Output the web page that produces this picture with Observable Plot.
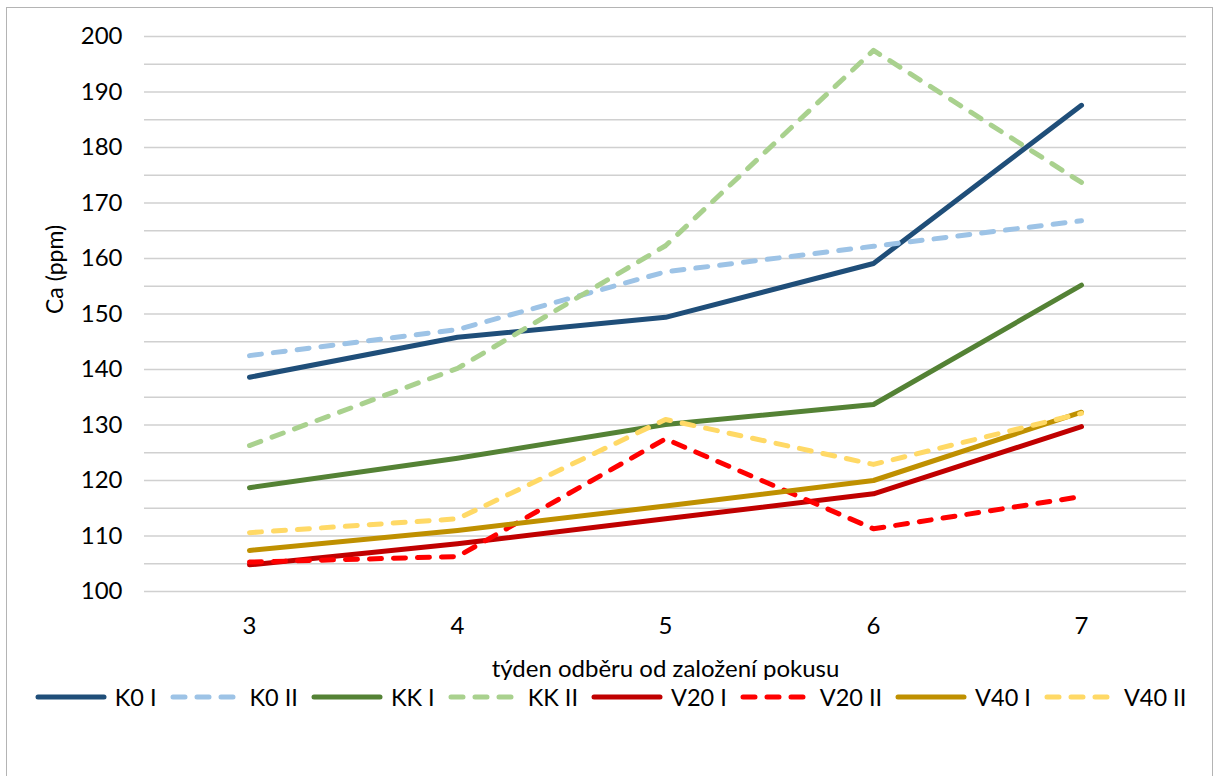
<!DOCTYPE html>
<html>
<head>
<meta charset="utf-8">
<script src="https://cdn.jsdelivr.net/npm/d3@7"></script>
<script src="https://cdn.jsdelivr.net/npm/@observablehq/plot@0.6"></script>
<style>
  html, body { margin: 0; padding: 0; background: #fff; }
  body { width: 1221px; height: 776px; position: relative; overflow: hidden; font-family: Lato, "Open Sans", sans-serif; }
  #frame { position: absolute; left: 6px; top: 7px; width: 1207px; height: 820px; border: 1px solid #b4b4b4; box-sizing: border-box; }
  #chart { position: absolute; left: 0; top: 0; }
  #legend { position: absolute; left: 0; top: 683px; width: 1221px; display: flex; justify-content: center; align-items: center; gap: 13px; font-size: 23.5px; color: #000; }
  .item { display: flex; align-items: center; gap: 8px; }
  .item svg { display: block; }
</style>
</head>
<body>
<div id="frame"></div>
<div id="chart"></div>
<div id="legend"></div>
<script>
const weeks = [3, 4, 5, 6, 7];
const seriesNames = ["K0 I", "K0 II", "KK I", "KK II", "V20 I", "V20 II", "V40 I", "V40 II"];
const k0I   = [138.6, 145.8, 149.4, 159.1, 187.6];
const k0II  = [142.5, 147.2, 157.6, 162.2, 166.8];
const kkI   = [118.7, 124.0, 130.1, 133.7, 155.2];
const kkII  = [126.3, 140.2, 162.3, 197.5, 173.7];
const v20I  = [104.8, 108.6, 113.1, 117.6, 129.7];
const v20II = [105.3, 106.3, 127.5, 111.3, 117.1];
const v40I  = [107.4, 111.0, 115.4, 120.0, 132.3];
const v40II = [110.6, 113.1, 131.0, 122.9, 132.1];
const yTicks = [100, 110, 120, 130, 140, 150, 160, 170, 180, 190, 200];
const yGrid = d3.range(100, 201, 5);
const xLabel = "týden odběru od založení pokusu";
const yLabel = "Ca (ppm)";

const values = [k0I, k0II, kkI, kkII, v20I, v20II, v40I, v40II];
const colors = ["#1f4e79", "#9dc3e6", "#548235", "#a9d18e", "#c00000", "#ff0000", "#bf9000", "#ffd966"];
const dashed = [false, true, false, true, false, true, false, true];

const series = seriesNames.map((name, i) => ({
  name, color: colors[i], dashed: dashed[i],
  data: weeks.map((w, j) => ({week: w, value: values[i][j]}))
}));

const font = "Lato, 'Open Sans', sans-serif";

const chart = Plot.plot({
  width: 1221,
  height: 680,
  marginLeft: 144,
  marginRight: 35,
  marginTop: 36,
  marginBottom: 89,
  style: {fontFamily: font, fontSize: "24px", color: "#000", background: "transparent"},
  x: {type: "point", domain: weeks, padding: 0.5},
  y: {domain: [100, 200]},
  marks: [
    Plot.ruleY(yGrid, {stroke: "#d0d0d0", strokeWidth: 1.4, strokeOpacity: 1}),
    Plot.axisY({ticks: yTicks, tickSize: 0, tickPadding: 22, label: null, fontSize: 24}),
    Plot.axisX({tickSize: 0, tickPadding: 25, fontSize: 24, label: xLabel, labelAnchor: "center", labelOffset: 85, labelArrow: "none"}),
    Plot.text([yLabel], {frameAnchor: "left", dx: -89, rotate: -90, text: d => d, fontSize: 23}),
    ...series.map(s => Plot.line(s.data, {
      x: "week", y: "value", stroke: s.color, strokeWidth: 5,
      strokeLinecap: "round", strokeLinejoin: "round",
      strokeDasharray: s.dashed ? "12,12" : null
    }))
  ]
});
document.getElementById("chart").appendChild(chart);

const legend = document.getElementById("legend");
series.forEach(s => {
  const item = document.createElement("div");
  item.className = "item";
  item.innerHTML = `<svg width="72" height="10"><line x1="3" y1="5" x2="69" y2="5" stroke="${s.color}" stroke-width="5" stroke-linecap="round" ${s.dashed ? 'stroke-dasharray="12,12"' : ''}/></svg><span>${s.name}</span>`;
  legend.appendChild(item);
});
</script>
</body>
</html>
